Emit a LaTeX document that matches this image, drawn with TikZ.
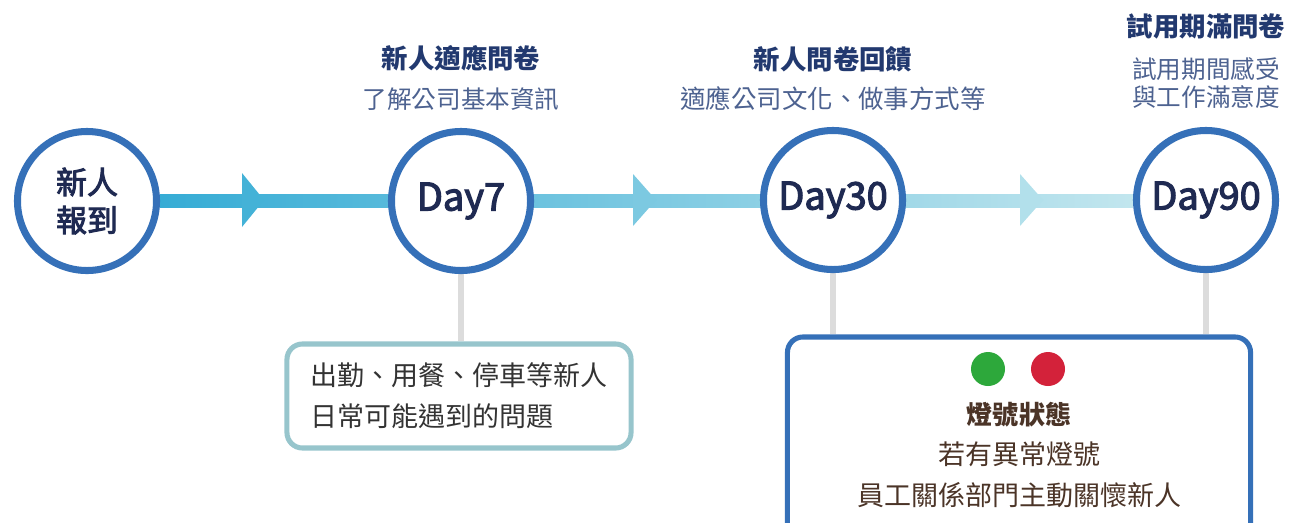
\documentclass[tikz,border=0pt]{standalone}
\usepackage{fontspec}
\setmainfont{Noto Sans CJK TC}
\newfontfamily\medfont[FakeBold=3]{Noto Sans CJK TC}
\usetikzlibrary{positioning, calc, backgrounds}
\definecolor{ringblue}{HTML}{3570B8}
\definecolor{daynavy}{HTML}{1F2A52}
\definecolor{titlenavy}{HTML}{22396F}
\definecolor{subblue}{HTML}{4D6290}
\definecolor{barleft}{HTML}{36ACD5}
\definecolor{barright}{HTML}{C2E6EE}
\definecolor{stemgray}{HTML}{DCDCDC}
\definecolor{tealbox}{HTML}{97C5CC}
\definecolor{boxtext}{HTML}{333333}
\definecolor{lampgreen}{HTML}{2DA83B}
\definecolor{lampred}{HTML}{D3223A}
\definecolor{lamptext}{HTML}{4B3427}

\begin{document}
\begin{tikzpicture}[
    x=0.025cm, y=-0.025cm,
    stage/.style={circle, draw=ringblue, line width=5pt, fill=white,
                  minimum size=3.475cm, inner sep=0pt, text=daynavy, align=center},
    daylabel/.style={font=\fontsize{27}{30}\medfont},
    headline/.style={text=titlenavy, font=\fontsize{18.8}{22}\selectfont\bfseries},
    subline/.style={text=subblue, font=\fontsize{17.5}{19.4}\selectfont, align=center},
    stem/.style={draw=stemgray, line width=3.6pt},
    notebox/.style={draw, rounded corners=11pt, line width=3.6pt, fill=white},
    lamp/.style={circle, minimum size=0.85cm, inner sep=0pt},
  ]
    \useasboundingbox (0,0) rectangle (1290,522);
    \clip (0,0) rectangle (1290,522);

    % stages
    \node[stage, font=\fontsize{22}{27}\medfont] (start) at (87,201) {新人\\報到};
    \node[stage, daylabel] (day7) at (461,201) {Day7};
    \node[stage, daylabel] (day30) at (833,200) {Day30};
    \node[stage, daylabel] (day90) at (1206,200) {Day90};

    % headings
    \node[headline] (head7) at (461,58) {新人適應問卷};
    \node[subline] (sub7) at (461,99) {了解公司基本資訊};
    \node[headline] (head30) at (833,59) {新人問卷回饋};
    \node[subline, font=\fontsize{18.1}{22}\selectfont] (sub30) at (833,99) {適應公司文化、做事方式等};
    \node[headline] (head90) at (1206,26) {試用期滿問卷};
    \node[subline] (sub90) at (1206,83) {試用期間感受\\與工作滿意度};

    % boxes
    \node[notebox, draw=tealbox, minimum width=8.6cm, minimum height=2.6cm,
          text=boxtext, align=left, font=\fontsize{19.2}{29.2}\selectfont]
          (faq) at (459,396) {出勤、用餐、停車等新人\\日常可能遇到的問題};
    \node[notebox, draw=ringblue, minimum width=11.575cm, minimum height=5.6cm]
          (signal) at (1019,449) {};
    \node[lamp, fill=lampgreen] (green) at (988,369) {};
    \node[lamp, fill=lampred] (red) at (1048,369) {};
    \node[text=lamptext, align=center, font=\fontsize{19.2}{28.5}\selectfont]
          (signaltext) at (1019,455)
          {{\bfseries\fontsize{18.5}{28.5}\selectfont 燈號狀態}\\若有異常燈號\\員工關係部門主動關懷新人};

    % timeline bar and stems
    \begin{scope}[on background layer]
      \shade[left color=barleft, right color=barright]
        ([yshift=0.175cm]start.east) rectangle ([yshift=-0.175cm]day90.west);
      \fill[barright!10!barleft] (242,173) -- (264,200) -- (242,227) -- cycle;
      \fill[barright!50!barleft] (633,174) -- (656,200) -- (633,226) -- cycle;
      \fill[barright!89!barleft] (1020,174) -- (1043,200) -- (1020,226) -- cycle;
      \draw[stem] (day7.south) -- (day7.south |- faq.north);
      \draw[stem] (day30.south) -- (day30.south |- signal.north);
      \draw[stem] (day90.south) -- (day90.south |- signal.north);
    \end{scope}
\end{tikzpicture}
\end{document}
